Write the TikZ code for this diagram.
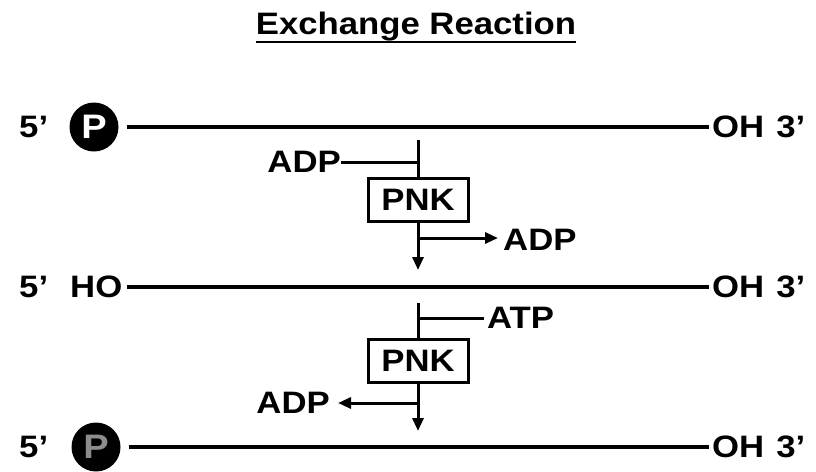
\documentclass[tikz,border=0pt]{standalone}
\usepackage{fontspec}
\setmainfont{Liberation Sans}
\newfontfamily\labfont[FakeStretch=1.12]{Liberation Sans}
\usetikzlibrary{arrows.meta}

\begin{document}
\begin{tikzpicture}[x=1pt,y=-1pt,
  lbl/.style={font=\labfont\fontsize{31}{35}\selectfont\bfseries, inner sep=0pt},
  strand/.style={line width=4pt},
  flow/.style={line width=3pt},
  tip/.style={-{Triangle[length=13pt,width=11pt]}},
  pnkbox/.style={draw, line width=3pt, minimum width=100pt, minimum height=43pt,
    inner sep=0pt, font=\labfont\fontsize{31}{35}\selectfont\bfseries},
  phos/.style={circle, fill=black, minimum size=49pt, inner sep=0pt,
    font=\labfont\fontsize{34}{38}\selectfont\bfseries}]
\useasboundingbox (0,0) rectangle (816,471);

% title
\node[lbl, anchor=base] (title) at (416,34) {Exchange Reaction};
\draw[line width=2.5pt] ([yshift=-8pt]title.base west) -- ([yshift=-8pt]title.base east);

% strand 1: 5' phosphate
\node[lbl, anchor=west] (f1) at (19,127) {5’};
\node[phos, text=white] (p1) at (94,127) {P};
\node[lbl, anchor=west] (t1) at (712,127) {OH\hspace{12pt}3’};
\draw[strand, shorten <=8pt, shorten >=3pt] (p1.east) -- (p1.east -| t1.west);

% strand 2: 5' hydroxyl
\node[lbl, anchor=west] (f2) at (19,287) {5’};
\node[lbl, anchor=west] (ho) at (70,287) {HO};
\node[lbl, anchor=west] (t2) at (712,287) {OH\hspace{12pt}3’};
\draw[strand, shorten <=5pt, shorten >=3pt] (ho.east) -- (ho.east -| t2.west);

% strand 3: 5' phosphate restored
\node[lbl, anchor=west] (f3) at (19,447) {5’};
\node[phos, text=black!45] (p3) at (96,447) {P};
\node[lbl, anchor=west] (t3) at (712,447) {OH\hspace{12pt}3’};
\draw[strand, shorten <=8pt, shorten >=3pt] (p3.east) -- (p3.east -| t3.west);

% first PNK step: ADP in, ADP out
\node[pnkbox] (k1) at (418,200) {PNK};
\coordinate (k1top) at (418,140);
\coordinate (j1) at (418,162);
\coordinate (b1) at (418,238);
\coordinate (e1) at (418,270);
\node[lbl, anchor=east] (a1) at (341,162) {ADP};
\node[lbl, anchor=west] (a2) at (503,240) {ADP};
\draw[flow] (k1top) -- (k1.north);
\draw[flow] (a1.east) -- (j1);
\draw[flow, tip] (k1.south) -- (e1);
\draw[flow, tip] (b1) -- ([xshift=-5pt]b1 -| a2.west);

% second PNK step: ATP in, ADP out
\node[pnkbox] (k2) at (418,361) {PNK};
\coordinate (k2top) at (418,303);
\coordinate (j2) at (418,318);
\coordinate (b2) at (418,403);
\coordinate (e2) at (418,431);
\node[lbl, anchor=west] (atp) at (487,318) {ATP};
\node[lbl, anchor=east] (a3) at (330,403) {ADP};
\draw[flow] (k2top) -- (k2.north);
\draw[flow] (j2) -- ([xshift=-3pt]j2 -| atp.west);
\draw[flow, tip] (k2.south) -- (e2);
\draw[flow, tip] (b2) -- ([xshift=8pt]b2 -| a3.east);
\end{tikzpicture}
\end{document}
